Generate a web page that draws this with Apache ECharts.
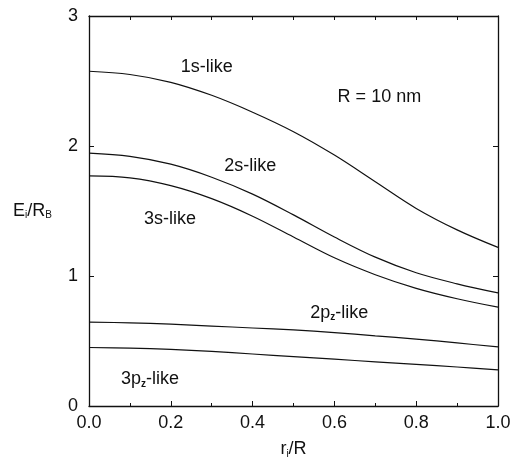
<!DOCTYPE html>
<html>
<head>
<meta charset="utf-8">
<script src="https://cdn.jsdelivr.net/npm/echarts@6/dist/echarts.min.js"></script>
<style>
  html, body { margin: 0; padding: 0; background: #fff; }
  #chart { width: 512px; height: 457px; }
</style>
</head>
<body>
<div id="chart"></div>
<script>
// r_i/R sample positions
const rVals = [0.0, 0.1, 0.2, 0.3, 0.4, 0.5, 0.6, 0.7, 0.8, 0.9, 1.0];
// E_i/R_B for each state
const e1s  = [2.575, 2.55, 2.49, 2.39, 2.26, 2.11, 1.93, 1.725, 1.52, 1.355, 1.22];
const e2s  = [1.945, 1.92, 1.86, 1.76, 1.63, 1.47, 1.30, 1.145, 1.025, 0.94, 0.87];
const e3s  = [1.77, 1.755, 1.695, 1.595, 1.46, 1.30, 1.14, 1.01, 0.905, 0.825, 0.76];
const e2pz = [0.645, 0.64, 0.63, 0.615, 0.60, 0.585, 0.565, 0.54, 0.515, 0.485, 0.455];
const e3pz = [0.45, 0.445, 0.435, 0.42, 0.40, 0.38, 0.36, 0.34, 0.32, 0.30, 0.278];

// annotation text and where it sits (data coords)
const notes = [
  { text: '1s-like', at: [0.288, 2.608] },
  { text: '2s-like', at: [0.394, 1.846] },
  { text: '3s-like', at: [0.198, 1.436] },
  { text: 'R = 10 nm', at: [0.71, 2.377] },
  { text: '{a|2p}{s|z}{a|-like}', at: [0.612, 0.715] },
  { text: '{a|3p}{s|z}{a|-like}', at: [0.149, 0.205] }
];

const FONT = 'Liberation Sans, Arial, sans-serif';
const chart = echarts.init(document.getElementById('chart'));

function pairs(ys) {
  return rVals.map((x, i) => [x, ys[i]]);
}
function lineSeries(ys) {
  return {
    type: 'line',
    data: pairs(ys),
    smooth: 0.35,
    showSymbol: false,
    silent: true,
    lineStyle: { color: '#111', width: 1.2 }
  };
}

const tickStyle = { color: '#111', width: 1 };
const lineStyle = { color: '#111', width: 1.3 };
const subRich = {
  a: { fontSize: 18, fontFamily: FONT, color: '#111' },
  s: { fontSize: 10, fontFamily: FONT, color: '#111', verticalAlign: 'bottom', padding: [9, 0, 0, 0] }
};
const option = {
  animation: false,
  grid: { left: 89, right: 14, top: 16, bottom: 51, outerBoundsMode: 'none', containLabel: false },
  xAxis: [
    {
      type: 'value', min: 0, max: 1, interval: 0.2,
      axisLine: { onZero: false, lineStyle: lineStyle },
      axisTick: { inside: true, length: 5, lineStyle: tickStyle },
      minorTick: { show: true, splitNumber: 2, length: 3, lineStyle: tickStyle },
      splitLine: { show: false },
      axisLabel: {
        color: '#111', fontSize: 18, fontFamily: FONT, margin: 8,
        formatter: v => v.toFixed(1)
      },
      name: '{a|r}{s|i}{a|/R}',
      nameLocation: 'middle', nameGap: 34,
      nameTextStyle: { rich: subRich }
    },
    {
      type: 'value', min: 0, max: 1, interval: 0.1, position: 'top',
      axisLine: { onZero: false, lineStyle: lineStyle },
      axisTick: { inside: true, length: 4, lineStyle: tickStyle },
      axisLabel: { show: false },
      splitLine: { show: false }
    }
  ],
  yAxis: [
    {
      type: 'value', min: 0, max: 3, interval: 1,
      axisLine: { show: true, onZero: false, lineStyle: lineStyle },
      axisTick: { show: true, inside: true, length: 5, lineStyle: tickStyle },
      splitLine: { show: false },
      axisLabel: { color: '#111', fontSize: 18, fontFamily: FONT, margin: 11 },
      name: '{a|E}{s|i}{a|/R}{s|B}',
      nameLocation: 'middle', nameGap: 37, nameRotate: 0,
      nameTextStyle: { rich: subRich }
    },
    {
      type: 'value', min: 0, max: 3, interval: 1, position: 'right',
      axisLine: { show: true, onZero: false, lineStyle: lineStyle },
      axisTick: { show: true, inside: true, length: 5, lineStyle: tickStyle },
      axisLabel: { show: false },
      splitLine: { show: false }
    }
  ],
  series: [
    lineSeries(e1s),
    lineSeries(e2s),
    lineSeries(e3s),
    lineSeries(e2pz),
    lineSeries(e3pz)
  ]
};
chart.setOption(option);

// place the text notes from data coordinates
chart.setOption({
  graphic: notes.map(n => {
    const p = chart.convertToPixel({ xAxisIndex: 0, yAxisIndex: 0 }, n.at);
    return {
      type: 'text', x: p[0], y: p[1], silent: true,
      style: {
        text: n.text, fill: '#111', font: '18px ' + FONT,
        align: 'center', verticalAlign: 'middle',
        rich: {
          a: { fontSize: 18, fontFamily: FONT, fill: '#111' },
          s: { fontSize: 10, fontFamily: FONT, fill: '#111', fontWeight: 'bold', verticalAlign: 'bottom', padding: [9, 0, 0, 0] }
        }
      }
    };
  })
});
</script>
</body>
</html>
